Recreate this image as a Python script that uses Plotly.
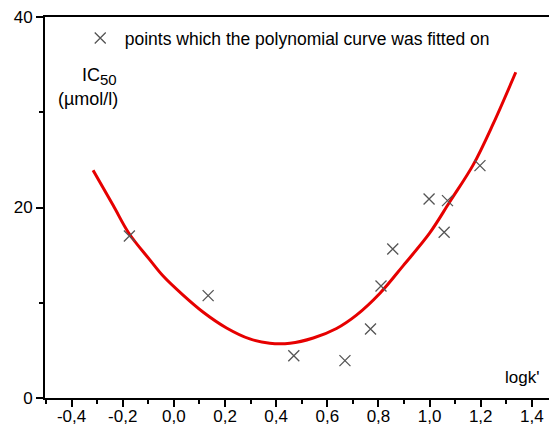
import plotly.graph_objects as go

# Fitted points (logk', IC50)
pts_x = [-0.174, 0.134, 0.469, 0.669, 0.769, 0.810, 0.856, 0.998, 1.057, 1.070, 1.197]
pts_y = [17.0, 10.75, 4.44, 3.92, 7.25, 11.76, 15.65, 20.9, 17.4, 20.72, 24.4]

# Polynomial curve
curve_x = [-0.316, -0.237, -0.176, -0.094, -0.042, 0.036, 0.115, 0.206, 0.297, 0.375,
           0.454, 0.545, 0.636, 0.714, 0.806, 0.897, 1.000, 1.079, 1.171, 1.249, 1.337]
curve_y = [23.9, 20.2, 17.3, 14.5, 12.8, 10.8, 9.0, 7.35, 6.2, 5.75,
           5.75, 6.3, 7.3, 8.7, 11.0, 13.9, 17.3, 20.6, 24.5, 28.8, 34.2]

x_tickvals = [-0.4, -0.2, 0.0, 0.2, 0.4, 0.6, 0.8, 1.0, 1.2, 1.4]
x_ticktext = ["-0,4", "-0,2", "0,0", "0,2", "0,4", "0,6", "0,8", "1,0", "1,2", "1,4"]
x_minor = [-0.5, -0.3, -0.1, 0.1, 0.3, 0.5, 0.7, 0.9, 1.1, 1.3]
y_tickvals = [0, 20, 40]
y_ticktext = ["0", "20", "40"]
y_minor = [10, 30]

FONT = "Liberation Sans, Arial, Helvetica, sans-serif"

fig = go.Figure()
fig.add_trace(go.Scatter(
    x=curve_x, y=curve_y, mode="lines", line=dict(color="#e60000", width=3, shape="spline"),
    showlegend=False, hoverinfo="skip"))
fig.add_trace(go.Scatter(
    x=pts_x, y=pts_y, mode="markers",
    marker=dict(symbol="x-thin", size=11, line=dict(color="#555555", width=1.3), color="#555555"),
    name="points which the polynomial curve was fitted on", showlegend=True))

fig.update_layout(
    width=549, height=429,
    margin=dict(l=45, r=0, t=17, b=31),
    plot_bgcolor="white", paper_bgcolor="white",
    font=dict(family=FONT, size=17, color="black"),
    legend=dict(x=0.061, y=0.992, xanchor="left", yanchor="top", bgcolor="rgba(0,0,0,0)",
                font=dict(size=17.5), itemwidth=39),
    xaxis=dict(range=[-0.504, 1.467], showgrid=False, zeroline=False, automargin=False,
               showline=True, linecolor="black", linewidth=2, mirror=True,
               ticks="outside", ticklen=7, tickwidth=2, tickcolor="black",
               ticklabelstandoff=-5,
               tickmode="array", tickvals=x_tickvals, ticktext=x_ticktext,
               minor=dict(tickmode="array", tickvals=x_minor, ticks="outside",
                          ticklen=4, tickwidth=2, tickcolor="black")),
    yaxis=dict(range=[0, 40], showgrid=False, zeroline=False, automargin=False,
               showline=True, linecolor="black", linewidth=2, mirror=False,
               ticks="outside", ticklen=7, tickwidth=2, tickcolor="black",
               tickmode="array", tickvals=y_tickvals, ticktext=y_ticktext,
               minor=dict(tickmode="array", tickvals=y_minor, ticks="outside",
                          ticklen=4, tickwidth=2, tickcolor="black")),
)

fig.add_annotation(text="IC<sub><span style='font-size:15px'>50</span></sub>", xref="paper", yref="paper",
                   x=(119 - 45) / 504, y=(398 - 76) / 381, xanchor="right", yanchor="middle",
                   showarrow=False, font=dict(size=18))
fig.add_annotation(text="(µmol/l)", xref="paper", yref="paper",
                   x=(120 - 45) / 504, y=(398 - 99) / 381, xanchor="right", yanchor="middle",
                   showarrow=False, font=dict(size=18))
fig.add_annotation(text="logk'", xref="paper", yref="paper",
                   x=(541 - 45) / 504, y=(398 - 377) / 381, xanchor="right", yanchor="middle",
                   showarrow=False, font=dict(size=17))

fig.write_html("out.html", config={"displayModeBar": False},
               post_script="document.body.style.margin='0px';")
